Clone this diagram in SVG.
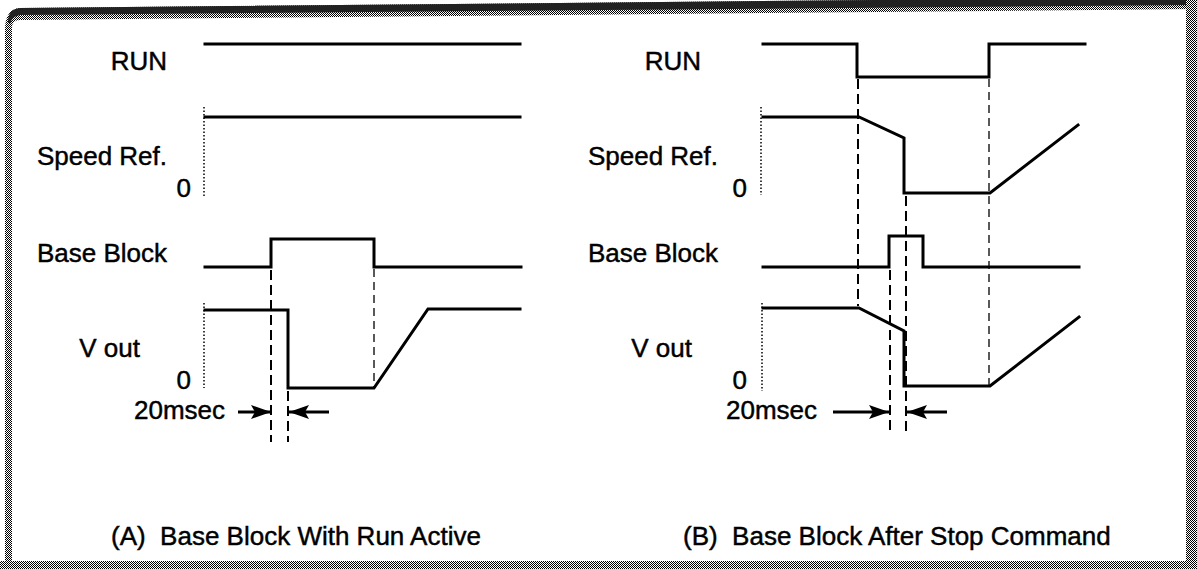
<svg xmlns="http://www.w3.org/2000/svg" width="1197" height="569" viewBox="0 0 1197 569">
<style>
.lbl{font-family:"Liberation Sans",Arial,Helvetica,sans-serif;font-size:26px;fill:#000;stroke:#000;stroke-width:0.45}
.end{text-anchor:end}
.wave{fill:none;stroke:#000;stroke-width:3;stroke-linejoin:miter;stroke-linecap:square}
.dash{fill:none;stroke:#000;stroke-width:2;stroke-dasharray:10 5}
.thin{fill:none;stroke:#000;stroke-width:1.3;stroke-dasharray:8 5}
.dot{fill:none;stroke:#000;stroke-width:1.5;stroke-dasharray:1.5 2}
.arr{fill:none;stroke:#000;stroke-width:3}
</style>
<defs>
<pattern id="dither" width="2" height="2" patternUnits="userSpaceOnUse">
<rect width="2" height="2" fill="#fff"/>
<rect width="1" height="1" fill="#000"/>
<rect x="1" y="1" width="1" height="1" fill="#000"/>
</pattern>
<marker id="head" viewBox="0 0 20 14" refX="20" refY="7" markerWidth="20" markerHeight="14" markerUnits="userSpaceOnUse" orient="auto">
<path d="M0,0 L20,7 L0,14 L4,7 Z" fill="#000"/>
</marker>
</defs>
<rect width="1197" height="569" fill="#fff"/>
<g id="frame">
<path d="M5,569 V30 Q5,9 20,8 L1197,-3 V9 L20,20 Q12,20 12,28 V569 Z" fill="url(#dither)"/>
<path d="M8,22 Q8,9 20,8 L1197,-3 V5 L20,15 Q12,16 10,24 Z" fill="#222"/>
<rect x="1186" y="0" width="11" height="569" fill="url(#dither)"/>
<rect x="0" y="561" width="1197" height="8" fill="url(#dither)"/>
</g>
<g id="panel-a-labels">
<text class="lbl end" x="167" y="70">RUN</text>
<text class="lbl end" x="167" y="165">Speed Ref.</text>
<text class="lbl end" x="191" y="197">0</text>
<text class="lbl end" x="167" y="262">Base Block</text>
<text class="lbl end" x="140" y="357">V out</text>
<text class="lbl end" x="191" y="389">0</text>
<text class="lbl" x="134" y="419">20msec</text>
<text class="lbl" x="111" y="545" xml:space="preserve">(A)  Base Block With Run Active</text>
</g>
<g id="panel-b-labels">
<text class="lbl end" x="701" y="70">RUN</text>
<text class="lbl end" x="718" y="165">Speed Ref.</text>
<text class="lbl end" x="747" y="197">0</text>
<text class="lbl end" x="718" y="262">Base Block</text>
<text class="lbl end" x="692" y="357">V out</text>
<text class="lbl end" x="747" y="389">0</text>
<text class="lbl" x="726" y="419">20msec</text>
<text class="lbl" x="683" y="545" xml:space="preserve">(B)  Base Block After Stop Command</text>
</g>
<g id="panel-a-waves">
<path class="wave" d="M205,44 H520"/>
<path class="wave" d="M205,117 H520"/>
<path class="wave" d="M205,267 H271 V239 H374 V267 H521"/>
<path class="wave" d="M205,310 H288 V388 H374 L428,309 H520"/>
</g>
<g id="panel-b-waves">
<path class="wave" d="M763,44 H857 V77 H989 V44 H1085"/>
<path class="wave" d="M763,117 H859 L904,138 V193 H990 L1078,125"/>
<path class="wave" d="M763,267 H889 V236 H923 V267 H1079"/>
<path class="wave" d="M763,308 H859 L904,331 V386 H990 L1079,317"/>
</g>
<g id="connectors">
<path class="dot" d="M204,107 V197"/>
<path class="dot" d="M204,303 V388"/>
<path class="dot" d="M761,107 V195"/>
<path class="dot" d="M762,303 V391"/>
<path class="dash" d="M271,270 V442"/>
<path class="dash" d="M288,391 V442"/>
<path class="thin" d="M374,269 V387"/>
<path class="dash" d="M858,79 V306"/>
<path class="thin" d="M989,79 V385"/>
<path class="dash" d="M906,196 V432"/>
<path class="dash" d="M890,270 V430"/>
<path class="arr" d="M238,412 H271" marker-end="url(#head)"/>
<path class="arr" d="M329,412 H289" marker-end="url(#head)"/>
<path class="arr" d="M833,412 H889" marker-end="url(#head)"/>
<path class="arr" d="M947,412 H907" marker-end="url(#head)"/>
</g>
</svg>
